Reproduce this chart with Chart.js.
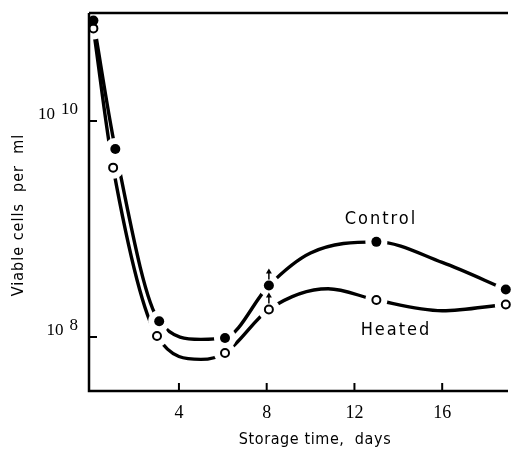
<!DOCTYPE html>
<html>
<head>
<meta charset="utf-8">
<script src="https://cdn.jsdelivr.net/npm/chart.js@4"></script>
<style>
  html, body { margin: 0; padding: 0; background: #fff; }
  #wrap { width: 514px; height: 458px; position: relative; }
</style>
</head>
<body>
<div id="wrap"><canvas id="chart"></canvas></div>
<script>
// measured points (storage time in days, viable cells per ml)
var days = [0.1, 1.1, 3.1, 6.1, 8.1, 13.0, 18.9];
var heatedDays = [0.1, 1.0, 3.0, 6.1, 8.1, 13.0, 18.9];
var control = [8.5e10, 5.5e9, 1.4e8, 9.8e7, 3.0e8, 7.6e8, 2.75e8];
var heated = [7.2e10, 3.7e9, 1.02e8, 7.1e7, 1.8e8, 2.2e8, 2.0e8];

// the hand drawn curves (they bend between the points)
var controlCurveDays = [0.1, 1.1, 3.1, 5.0, 6.1, 8.1, 10.0, 13.0, 16.0, 18.9];
var controlCurve = [8.5e10, 5.5e9, 1.4e8, 9.5e7, 9.8e7, 3.0e8, 6.0e8, 7.6e8, 4.9e8, 2.75e8];
var heatedCurveDays = [0.1, 1.0, 3.0, 5.0, 6.1, 8.1, 10.8, 13.0, 16.0, 18.9];
var heatedCurve = [7.2e10, 3.7e9, 1.02e8, 6.2e7, 7.1e7, 1.8e8, 2.8e8, 2.2e8, 1.75e8, 2.0e8];

var xTicks = [4, 8, 12, 16];
var yTicks = [1e8, 1e10];
var yTickLabels = [['10', '8'], ['10', '10']];
var arrowDay = 8.1;

function pts(xs, ys) {
  var out = [];
  for (var i = 0; i < xs.length; i++) {
    out.push({x: xs[i], y: ys[i]});
  }
  return out;
}

// white halos that break the curves around every point, then markers again on top
var haloPlugin = {
  id: 'halo',
  afterDatasetsDraw: function(chart) {
    var ctx = chart.ctx;
    var xs = chart.scales.x;
    var ys = chart.scales.y;
    ctx.save();
    ctx.fillStyle = '#fff';
    function halo(xv, yv) {
      ctx.beginPath();
      ctx.arc(xs.getPixelForValue(xv), ys.getPixelForValue(yv), 11, 0, Math.PI * 2);
      ctx.fill();
    }
    days.forEach(function(d, i) { halo(d, control[i]); });
    heatedDays.forEach(function(d, i) { halo(d, heated[i]); });
    ctx.restore();
    // redraw the two marker datasets with the library's own controller
    chart.getDatasetMeta(1).controller.draw();
    chart.getDatasetMeta(0).controller.draw();
  }
};

// axes, ticks, titles, arrows and curve labels
var decorPlugin = {
  id: 'decor',
  afterDraw: function(chart) {
    var ctx = chart.ctx;
    var a = chart.chartArea;
    var xs = chart.scales.x;
    var ys = chart.scales.y;
    ctx.save();
    ctx.strokeStyle = '#000';
    ctx.fillStyle = '#000';

    // frame: left, bottom, top
    ctx.lineWidth = 2.5;
    ctx.beginPath();
    ctx.moveTo(a.left, a.top);
    ctx.lineTo(a.left, a.bottom);
    ctx.lineTo(a.right, a.bottom);
    ctx.stroke();
    ctx.beginPath();
    ctx.moveTo(a.left, a.top);
    ctx.lineTo(a.right, a.top);
    ctx.stroke();

    // x ticks point inward
    ctx.lineWidth = 2;
    ctx.font = '18px "Liberation Sans Narrow"';
    ctx.textAlign = 'center';
    ctx.textBaseline = 'middle';
    xTicks.forEach(function(t) {
      var px = xs.getPixelForValue(t);
      ctx.beginPath();
      ctx.moveTo(px, a.bottom);
      ctx.lineTo(px, a.bottom - 8);
      ctx.stroke();
      ctx.fillText(String(t), px, a.bottom + 22);
    });

    // y ticks with superscript labels
    yTicks.forEach(function(t, i) {
      var py = ys.getPixelForValue(t);
      ctx.beginPath();
      ctx.moveTo(a.left, py);
      ctx.lineTo(a.left + 8, py);
      ctx.stroke();
      var base = yTickLabels[i][0];
      var exp = yTickLabels[i][1];
      ctx.font = '17px "Liberation Serif"';
      ctx.textAlign = 'left';
      ctx.textBaseline = 'alphabetic';
      var expW = ctx.measureText(exp).width;
      var expX = a.left - 11 - expW;
      ctx.fillText(exp, expX, py - 7);
      var baseW = ctx.measureText(base).width;
      ctx.fillText(base, expX - 6 - baseW, py - 2);
    });

    // axis titles
    ctx.font = '16px "DejaVu Sans Condensed"';
    ctx.letterSpacing = '0.6px';
    ctx.textAlign = 'center';
    ctx.textBaseline = 'middle';
    ctx.fillText('Storage time,  days', 315, 440);
    ctx.save();
    ctx.translate(19, 215);
    ctx.rotate(-Math.PI / 2);
    ctx.letterSpacing = '1px';
    ctx.fillText('Viable cells  per  ml', 0, 0);
    ctx.restore();

    // curve labels
    ctx.font = '18px "DejaVu Sans Condensed"';
    ctx.letterSpacing = '2px';
    ctx.fillText('Control', 381, 219);
    ctx.fillText('Heated', 396, 330);
    ctx.letterSpacing = '0px';

    // small arrows above the day 8 points
    var ax = xs.getPixelForValue(arrowDay);
    [control[4], heated[4]].forEach(function(v) {
      var py = ys.getPixelForValue(v);
      var y0 = py - 6;
      var y1 = py - 17;
      ctx.lineWidth = 1.5;
      ctx.beginPath();
      ctx.moveTo(ax, y0);
      ctx.lineTo(ax, y1 + 3);
      ctx.stroke();
      ctx.beginPath();
      ctx.moveTo(ax, y1);
      ctx.lineTo(ax - 3, y1 + 5);
      ctx.lineTo(ax + 3, y1 + 5);
      ctx.closePath();
      ctx.fill();
    });
    ctx.restore();
  }
};

new Chart(document.getElementById('chart'), {
  type: 'scatter',
  data: {
    datasets: [
      {
        data: pts(days, control),
        showLine: false,
        pointRadius: 5,
        pointBackgroundColor: '#000',
        pointBorderColor: '#000',
        pointBorderWidth: 0
      },
      {
        data: pts(heatedDays, heated),
        showLine: false,
        pointRadius: 4,
        pointBackgroundColor: '#fff',
        pointBorderColor: '#000',
        pointBorderWidth: 2
      },
      {
        data: pts(controlCurveDays, controlCurve),
        showLine: true,
        pointRadius: 0,
        borderColor: '#000',
        borderWidth: 3.4,
        cubicInterpolationMode: 'monotone'
      },
      {
        data: pts(heatedCurveDays, heatedCurve),
        showLine: true,
        pointRadius: 0,
        borderColor: '#000',
        borderWidth: 3.4,
        cubicInterpolationMode: 'monotone'
      }
    ]
  },
  options: {
    responsive: true,
    maintainAspectRatio: false,
    animation: false,
    clip: false,
    layout: { padding: { left: 89, top: 13, right: 0, bottom: 67 } },
    plugins: {
      legend: { display: false },
      tooltip: { enabled: false }
    },
    scales: {
      x: { type: 'linear', min: -0.1, max: 19.0, display: false },
      y: { type: 'logarithmic', min: Math.pow(10, 7.5), max: 1e11, display: false }
    }
  },
  plugins: [haloPlugin, decorPlugin]
});
</script>
</body>
</html>
